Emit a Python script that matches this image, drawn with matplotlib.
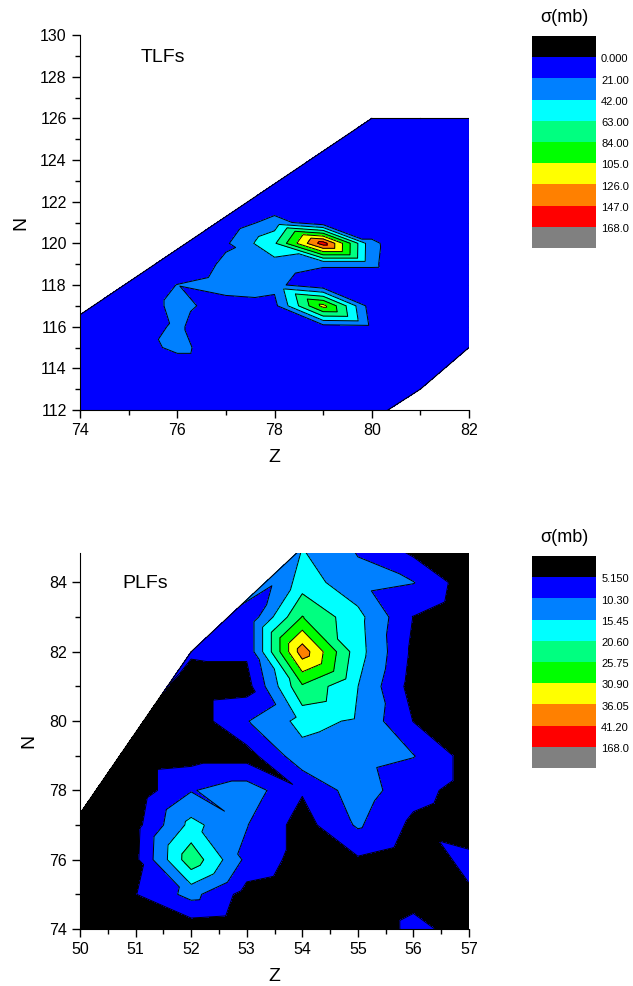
import numpy as np
import matplotlib
matplotlib.use('Agg')
import matplotlib.pyplot as plt
import matplotlib.tri as mtri
from matplotlib.ticker import MultipleLocator

plt.rcParams['font.family'] = ['Liberation Sans', 'DejaVu Sans']

nan = np.nan

# ---- TLFs: cross sections (mb) on the (Z, N) grid, nan = no data ----
tlf_z = np.arange(70, 83)
tlf_n = np.arange(110, 127)
tlf_sigma = np.array([
    # Z: 70   71   72   73   74   75    76    77    78    79    80    81   82
    [5,   5,   5,   5,   5,   5,    5,    5,    5,    5,    nan,  nan, nan],  # N=110
    [nan, 5,   5,   5,   5,   5,    5,    5,    5,    5,    nan,  nan, nan],  # 111
    [nan, nan, 5,   5,   5,   5,    5,    5,    5,    5,    5,    nan, nan],  # 112
    [nan, nan, 5,   5,   5,   5,    5,    5,    5,    5,    5,    5,   nan],  # 113
    [nan, nan, nan, 5,   5,   5,    3,    3,    5,    5,    5,    5,   nan],  # 114
    [nan, nan, nan, 5,   5,   5,    28,   5,    5,    5,    5,    5,   5],    # 115
    [nan, nan, nan, nan, 5,   10,   24,   5,    5,    12,   15,   4,   4],    # 116
    [nan, nan, nan, nan, nan, 5,    27,   12,   15,   112,  8,    4,   4],    # 117
    [nan, nan, nan, nan, nan, 5,    21.5, 30,   26,   5,    5,    4,   4],    # 118
    [nan, nan, nan, nan, nan, nan,  5,    25,   33,   24,   24,   3,   4],    # 119
    [nan, nan, nan, nan, nan, nan,  nan,  18,   60,   158,  25,   2,   4],    # 120
    [nan, nan, nan, nan, nan, nan,  nan,  5,    30,   5,    5,    4,   4],    # 121
    [nan, nan, nan, nan, nan, nan,  nan,  nan,  3,    5,    5,    5,   5],    # 122
    [nan, nan, nan, nan, nan, nan,  nan,  nan,  nan,  5,    5,    5,   5],    # 123
    [nan, nan, nan, nan, nan, nan,  nan,  nan,  nan,  4,    5,    5,   5],    # 124
    [nan, nan, nan, nan, nan, nan,  nan,  nan,  nan,  nan,  4,    4,   4],    # 125
    [nan, nan, nan, nan, nan, nan,  nan,  nan,  nan,  nan,  3,    3,   3],    # 126
])

# ---- PLFs ----
plf_z = np.arange(49, 59)
plf_n = np.arange(73, 87)
plf_sigma = np.array([
    # Z: 49  50   51   52   53    54    55    56    57   58
    [1,   1,   1,   1,   1,    1,    1,    1,    1,   1],    # N=73
    [1,   1,   1,   2,   1,    1,    1,    6.5,  3,   1],    # 74
    [1,   1,   5,   12,  3,    1,    1,    3.5,  4.5, 3],    # 75
    [nan, 1,   4,   24,  9,    3,    4.5,  2,    6.5, 3],    # 76
    [nan, 1,   3.5, 17,  10.5, 3,    11,   4,    2,   2],    # 77
    [nan, nan, 2,   10,  13,   5.6,  13,   7,    3,   1],    # 78
    [nan, nan, 2,   3,   3,    13.7, 12,   10.5, 3,   1],    # 79
    [nan, nan, nan, 2,   10,   17,   14.8, 5,    2,   1],    # 80
    [nan, nan, nan, 2,   3,    25,   15.5, 3,    1,   1],    # 81
    [nan, nan, nan, 6,   6,    39,   17.5, 4,    1,   1],    # 82
    [nan, nan, nan, nan, 6,    26,   17,   5,    1,   1],    # 83
    [nan, nan, nan, nan, nan,  18,   12,   10.5, 2,   1],    # 84
    [nan, nan, nan, nan, nan,  15.5, 9.7,  3.2,  2,   1],    # 85
    [nan, nan, nan, nan, nan,  nan,  8,    3,    1,   1],    # 86
])

tlf_levels = [0, 21, 42, 63, 84, 105, 126, 147, 168]
tlf_labels = ['0.000', '21.00', '42.00', '63.00', '84.00', '105.0', '126.0', '147.0', '168.0']
plf_levels = [5.15, 10.3, 15.45, 20.6, 25.75, 30.9, 36.05, 41.2, 168]
plf_labels = ['5.150', '10.30', '15.45', '20.60', '25.75', '30.90', '36.05', '41.20', '168.0']

# under, bands..., over
fill_colors = ['#000000', '#0000ff', '#0080ff', '#00ffff', '#00ff80',
               '#00ff00', '#ffff00', '#ff8000', '#ff0000', '#808080']


def triangulate(z_axis, n_axis, sigma):
    zz, nn = np.meshgrid(z_axis, n_axis)
    ok = ~np.isnan(sigma)
    x, y, v = zz[ok].astype(float), nn[ok].astype(float), sigma[ok]
    # small shear so every grid cell is split along (Z, N+1)-(Z+1, N)
    t = mtri.Triangulation(x + 0.1 * y, y)
    return mtri.Triangulation(x, y, t.triangles), v


def contour_panel(ax, z_axis, n_axis, sigma, levels, label, label_pos):
    triang, v = triangulate(z_axis, n_axis, sigma)
    ax.tricontourf(triang, v, levels=levels, colors=fill_colors, extend='both')
    ax.tricontour(triang, v, levels=levels, colors='k', linewidths=0.7)
    # outline of the data region
    for ti, tr in enumerate(triang.triangles):
        for j in range(3):
            if triang.neighbors[ti, j] == -1:
                a, b = tr[j], tr[(j + 1) % 3]
                ax.plot([triang.x[a], triang.x[b]], [triang.y[a], triang.y[b]],
                        color='k', lw=0.8)
    ax.text(label_pos[0], label_pos[1], label, transform=ax.transAxes, fontsize=14,
            ha='left', va='center')
    ax.set_xlabel('Z', fontsize=14, labelpad=8)
    ax.set_ylabel('N', fontsize=14, labelpad=8)
    for s in ('top', 'right'):
        ax.spines[s].set_visible(False)
    ax.tick_params(which='major', direction='out', length=6, width=1, labelsize=11.5)
    ax.tick_params(which='minor', direction='out', length=3.5, width=1)


def legend_box(fig, rect, labels):
    lax = fig.add_axes(rect)
    nbox = len(fill_colors)
    for i, c in enumerate(fill_colors):
        lax.bar(0.5, 1, bottom=i, width=1, color=c)
    for i, lab in enumerate(labels):
        lax.text(1.08, i + 1.1, lab, fontsize=8, ha='left', va='center')
    lax.text(0.5, -0.85, 'σ(mb)', fontsize=13, ha='center', va='center')
    lax.set_xlim(0, 1)
    lax.set_ylim(nbox, 0)
    lax.axis('off')


fig = plt.figure(figsize=(6.33, 9.86), dpi=100)
W, H = 633, 986

ax1 = fig.add_axes([80 / W, 1 - 410 / H, 389 / W, 375 / H])
contour_panel(ax1, tlf_z, tlf_n, tlf_sigma, tlf_levels, 'TLFs', (0.155, 0.94))
ax1.set_xlim(74, 82)
ax1.set_ylim(112, 130)
ax1.xaxis.set_major_locator(MultipleLocator(2))
ax1.xaxis.set_minor_locator(MultipleLocator(1))
ax1.yaxis.set_major_locator(MultipleLocator(2))
ax1.yaxis.set_minor_locator(MultipleLocator(1))

ax2 = fig.add_axes([80 / W, 1 - 929 / H, 389 / W, 376 / H])
contour_panel(ax2, plf_z, plf_n, plf_sigma, plf_levels, 'PLFs', (0.11, 0.92))
ax2.set_xlim(50, 57)
ax2.set_ylim(74, 84.85)
ax2.xaxis.set_major_locator(MultipleLocator(1))
ax2.xaxis.set_minor_locator(MultipleLocator(0.5))
ax2.yaxis.set_major_locator(MultipleLocator(2))
ax2.yaxis.set_minor_locator(MultipleLocator(1))

legend_box(fig, [532 / W, 1 - 248 / H, 64 / W, 212 / H], tlf_labels)
legend_box(fig, [532 / W, 1 - 768 / H, 64 / W, 212 / H], plf_labels)

fig.savefig('out.png', dpi=100)
